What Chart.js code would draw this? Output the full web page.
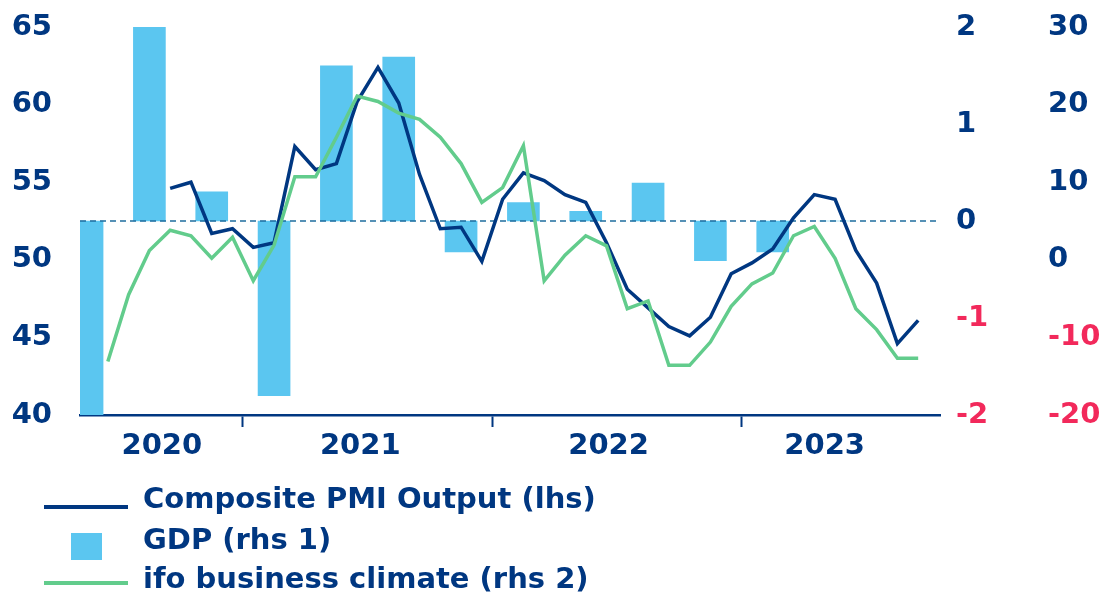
<!DOCTYPE html>
<html>
<head>
<meta charset="utf-8">
<script src="https://cdn.jsdelivr.net/npm/chart.js@4"></script>
<style>
  body { margin: 0; background: #fff; }
  #wrap { position: relative; width: 1104px; height: 595px; }
  #legend { position: absolute; left: 0; top: 0; width: 1104px; height: 595px; pointer-events: none;
            font-family: "DejaVu Sans", sans-serif; font-weight: bold; font-size: 29px; color: #003781; }
  .lg-text { position: absolute; left: 143px; line-height: 36px; white-space: nowrap; }
  .lg-line { position: absolute; left: 44px; width: 84px; height: 4px; }
  .lg-box { position: absolute; left: 71px; width: 31px; height: 27px; background: #5bc6f0; }
</style>
</head>
<body>
<div id="wrap">
  <canvas id="chart"></canvas>
  <div id="legend">
    <div class="lg-line" style="top:505px;background:#003781"></div>
    <div class="lg-text" style="top:480px">Composite PMI Output (lhs)</div>
    <div class="lg-box" style="top:533px"></div>
    <div class="lg-text" style="top:521px">GDP (rhs 1)</div>
    <div class="lg-line" style="top:581px;background:#62cc8c"></div>
    <div class="lg-text" style="top:560px">ifo business climate (rhs 2)</div>
  </div>
</div>
<script>
// month index: 0 = Jan 2020, points sit in the middle of their month
const years = ['2020', '2021', '2022', '2023'];
const yearLabelPos = [8.1, 17.65, 29.6, 40.0];
const yearBounds = [12, 24, 36];

// Composite PMI Output, monthly from Sep 2020
const pmiStart = 8;
const pmiValues = [54.6, 55.0, 51.7, 52.0, 50.8, 51.1, 57.3, 55.8, 56.2, 60.2, 62.4, 60.1,
  55.5, 52.0, 52.1, 49.9, 53.9, 55.6, 55.1, 54.2, 53.7, 51.1, 48.1, 46.9,
  45.7, 45.1, 46.3, 49.1, 49.8, 50.7, 52.7, 54.2, 53.9, 50.6, 48.5, 44.6, 46.1];

// ifo business climate, monthly from Jun 2020
const ifoStart = 5;
const ifoValues = [-13.1, -4.5, 1.2, 3.8, 3.1, 0.2, 2.9, -2.7, 1.9, 10.7, 10.7, 15.8, 21.1,
  20.4, 18.9, 18.1, 15.8, 12.4, 7.4, 9.3, 14.7, -2.7, 0.6, 3.1, 1.8, -6.3, -5.3,
  -13.6, -13.6, -10.6, -6.0, -3.1, -1.7, 3.1, 4.3, 0.2, -6.3, -9.0, -12.7, -12.7];

// GDP q/q %, quarterly from Q2 2020 (bar in the middle month of the quarter)
const gdpQuarters = ['Q2 2020', 'Q3 2020', 'Q4 2020', 'Q1 2021', 'Q2 2021', 'Q3 2021', 'Q4 2021',
  'Q1 2022', 'Q2 2022', 'Q3 2022', 'Q4 2022', 'Q1 2023', 'Q2 2023'];
const gdpValues = [-9.7, 8.7, 0.3, -1.8, 1.6, 1.69, -0.32, 0.19, 0.1, 0.39, -0.41, -0.32, 0.0];

const navy = '#003781';
const red = '#f2295b';

function quarterToX(q) {
  const qn = parseInt(q[1]);
  const yr = parseInt(q.slice(3));
  return (yr - 2020) * 12 + (qn - 1) * 3 + 1.5;
}

const pmiData = pmiValues.map((v, i) => ({ x: pmiStart + i + 0.5, y: v }));
const ifoData = ifoValues.map((v, i) => ({ x: ifoStart + i + 0.5, y: v }));
const gdpData = gdpValues.map((v, i) => ({ x: quarterToX(gdpQuarters[i]), y: v }));

const xMin = 4.16, xMax = 45.55;

const tickFont = { family: '"DejaVu Sans", sans-serif', size: 29, weight: 'bold' };

function negColor(c) {
  return c.tick && c.tick.value < 0 ? red : navy;
}

// keep the y axes from padding the chart area for their end labels
function fixWidth(w) {
  return (scale) => { scale.width = w; scale.paddingTop = 0; scale.paddingBottom = 0; };
}

const ctx = document.getElementById('chart').getContext('2d');
new Chart(ctx, {
  type: 'line',
  data: {
    datasets: [
      { label: 'ifo business climate (rhs 2)', data: ifoData, yAxisID: 'y2', borderColor: '#62cc8c',
        borderWidth: 3.5, pointRadius: 0, tension: 0, order: 0 },
      { label: 'Composite PMI Output (lhs)', data: pmiData, yAxisID: 'y', borderColor: navy,
        borderWidth: 3.5, pointRadius: 0, tension: 0, order: 1 },
      { label: 'zero', data: [{ x: xMin, y: 0 }, { x: xMax, y: 0 }], yAxisID: 'y1', borderColor: '#1f6e9e',
        borderWidth: 1.5, borderDash: [6, 4], pointRadius: 0, order: 2 },
      { type: 'bar', label: 'GDP (rhs 1)', data: gdpData, yAxisID: 'y1', backgroundColor: '#5bc6f0',
        barThickness: 32, order: 3 }
    ]
  },
  options: {
    responsive: true,
    maintainAspectRatio: false,
    animation: false,
    layout: { padding: { top: 27, left: 0, right: 0, bottom: 0 } },
    plugins: { legend: { display: false }, tooltip: { enabled: false } },
    scales: {
      x: {
        type: 'linear', min: xMin, max: xMax, offset: false,
        afterBuildTicks: (scale) => {
          scale.ticks = yearBounds.concat(yearLabelPos).sort((a, b) => a - b).map(v => ({ value: v }));
        },
        afterFit: (scale) => { scale.height = 180; scale.paddingLeft = 0; scale.paddingRight = 0; },
        grid: {
          offset: false, drawOnChartArea: false, tickLength: 12, tickWidth: 2,
          tickColor: (c) => c.tick && yearBounds.includes(c.tick.value) ? navy : 'rgba(0,0,0,0)'
        },
        border: { display: true, color: navy, width: 2.5 },
        ticks: {
          autoSkip: false, maxRotation: 0, padding: 2, color: navy, font: tickFont,
          callback: (v) => { const i = yearLabelPos.indexOf(v); return i >= 0 ? years[i] : ''; }
        }
      },
      y: {
        position: 'left', min: 40, max: 65,
        afterFit: fixWidth(80),
        grid: { display: false, drawTicks: false }, border: { display: false },
        ticks: { stepSize: 5, padding: 28, color: navy, font: tickFont }
      },
      y1: {
        position: 'right', min: -2, max: 2,
        afterFit: fixWidth(96),
        grid: { display: false, drawTicks: false }, border: { display: false },
        ticks: { stepSize: 1, padding: 16, font: tickFont, color: negColor }
      },
      y2: {
        position: 'right', min: -20, max: 30,
        afterFit: fixWidth(68),
        grid: { display: false, drawTicks: false }, border: { display: false },
        ticks: { stepSize: 10, padding: 12, font: tickFont, color: negColor }
      }
    }
  }
});
</script>
</body>
</html>
